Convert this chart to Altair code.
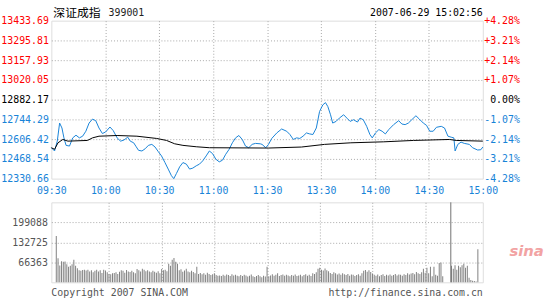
import altair as alt
import pandas as pd

# ---------------- data ----------------
PREV_CLOSE = 12882.17
PRICE_TICKS = [12330.66, 12468.54, 12606.42, 12744.29, 12882.17, 13020.05, 13157.93, 13295.81, 13433.69]
PCT_TICKS = [-4.28, -3.21, -2.14, -1.07, 0.0, 1.07, 2.14, 3.21, 4.28]
TIME_TICKS = [0, 30, 60, 90, 120, 150, 180, 210, 240]
TIME_LABELS = ["09:30", "10:00", "10:30", "11:00", "11:30", "13:30", "14:00", "14:30", "15:00"]
VOL_TICKS = [66363, 132725, 199088]
VOL_MAX = 265451
VOL_MARK_MINUTE = [224.6]

TITLE_NAME = "深证成指"
TITLE_CODE = "399001"
STAMP = "2007-06-29 15:02:56"
COPYRIGHT = "Copyright 2007 SINA.COM"
URL = "http://finance.sina.com.cn"
LOGO = "sina"

price_minute = [0.0, 1.8, 3.3, 4.6, 5.9, 7.0, 8.2, 10.1, 11.9, 13.7, 15.6, 17.4, 19.2, 21.0, 22.9, 24.7,
                26.5, 28.4, 30.2, 32.6, 34.4, 36.6, 38.5, 40.3, 42.5, 43.9, 45.8, 47.2, 48.5, 50.4, 52.2,
                54.0, 55.9, 57.7, 59.5, 61.3, 63.2, 65.0, 66.8, 68.1, 69.6, 71.4, 73.2, 75.1, 76.9, 78.7,
                80.6, 82.4, 84.2, 86.1, 87.9, 89.7, 91.5, 93.4, 95.2, 97.0, 98.9, 100.7, 102.5, 104.3,
                106.2, 108.0, 109.8, 111.7, 113.5, 116.2, 117.2, 119.3, 120.8, 122.6, 125.4, 128.1, 130.9,
                132.7, 134.6, 136.4, 138.2, 140.0, 141.9, 143.7, 145.5, 147.4, 148.3, 149.2, 151.0, 152.5,
                153.8, 155.3, 156.5, 158.4, 160.2, 162.6, 164.4, 166.2, 168.1, 170.3, 171.7, 173.5, 175.4,
                177.2, 178.5, 180.3, 182.2, 184.0, 185.8, 187.7, 190.4, 193.2, 195.0, 196.8, 198.6, 200.5,
                202.8, 204.7, 206.9, 208.7, 210.5, 212.4, 214.2, 216.9, 218.7, 220.6, 222.4, 223.9, 224.6,
                226.1, 227.9, 229.7, 232.5, 234.3, 237.1, 238.9, 240.0]
price_value = [12546.5, 12523.7, 12592.6, 12718.8, 12684.3, 12615.4, 12563.0, 12558.2, 12615.4, 12634.0,
               12615.4, 12627.1, 12661.6, 12718.8, 12746.4, 12735.3, 12684.3, 12645.7, 12656.7, 12691.2,
               12666.4, 12615.4, 12592.6, 12599.5, 12620.2, 12592.6, 12580.9, 12553.3, 12528.5, 12523.7,
               12539.5, 12563.0, 12569.9, 12551.3, 12518.9, 12489.2, 12443.0, 12397.5, 12351.3, 12330.66,
               12367.2, 12413.4, 12443.0, 12432.0, 12397.5, 12404.4, 12420.3, 12432.0, 12454.7, 12489.2,
               12523.7, 12505.1, 12466.5, 12447.8, 12459.6, 12500.9, 12535.4, 12580.9, 12615.4, 12631.9,
               12604.3, 12558.2, 12546.5, 12569.9, 12576.8, 12574.0, 12569.9, 12546.5, 12569.9, 12611.2,
               12649.8, 12677.4, 12661.6, 12638.8, 12604.3, 12615.4, 12611.2, 12627.1, 12649.8, 12642.9,
               12638.8, 12684.3, 12742.2, 12799.4, 12845.6, 12861.5, 12833.9, 12776.7, 12718.8, 12730.5,
               12753.3, 12776.7, 12753.3, 12730.5, 12742.2, 12725.7, 12753.3, 12742.2, 12696.0, 12638.8,
               12615.4, 12649.8, 12673.3, 12661.6, 12642.9, 12673.3, 12707.8, 12735.3, 12711.9, 12707.8,
               12718.8, 12742.2, 12769.8, 12746.4, 12718.8, 12702.9, 12661.6, 12661.6, 12689.1, 12696.0,
               12684.3, 12627.1, 12620.2, 12615.4, 12523.7, 12569.9, 12585.7, 12576.8, 12569.9, 12546.5,
               12530.6, 12532.6, 12551.3]

avg_minute = [0.0, 1.8, 3.7, 6.4, 9.2, 20.1, 22.9, 26.5, 36.6, 47.6, 58.6, 64.1, 68.6, 73.2, 80.6, 87.9,
              120.8, 139.1, 152.0, 166.6, 184.9, 201.4, 221.5, 225.2, 240.0]
avg_value = [12546.5, 12535.4, 12580.9, 12604.3, 12592.6, 12597.4, 12615.4, 12627.1, 12631.9, 12627.1,
             12611.2, 12597.4, 12574.0, 12563.0, 12553.3, 12546.5, 12544.4, 12551.3, 12569.9, 12580.9,
             12587.8, 12597.4, 12604.3, 12597.4, 12592.6]

volume = [
    154000, 80000, 56000, 70000, 68000, 69000, 60000, 52000, 55000, 60000,
    75000, 55000, 47000, 40000, 38000, 41000, 42000, 39000, 42000, 36000,
    40000, 33000, 38000, 42000, 36000, 40000, 31000, 42000, 39000, 33000,
    28000, 27000, 30000, 31000, 33000, 28000, 35000, 40000, 38000, 32000,
    41000, 36000, 34000, 38000, 33000, 30000, 44000, 40000, 36000, 45000,
    42000, 37000, 40000, 36000, 33000, 38000, 35000, 32000, 37000, 30000,
    44000, 40000, 42000, 37000, 62000, 55000, 75000, 81000, 68000, 62000,
    40000, 43000, 35000, 39000, 45000, 36000, 33000, 38000, 34000, 30000,
    52000, 28000, 31000, 27000, 30000, 25000, 32000, 28000, 24000, 27000,
    30000, 24000, 22000, 23000, 21000, 25000, 22000, 26000, 24000, 21000,
    27000, 23000, 25000, 22000, 20000, 24000, 21000, 25000, 23000, 19000,
    22000, 26000, 20000, 18000, 21000, 24000, 20000, 17000, 22000, 19000,
    52000,
    20000, 23000, 27000, 22000, 25000, 30000, 21000, 24000, 26000, 22000,
    25000, 23000, 20000, 24000, 22000, 26000, 21000, 23000, 25000, 20000,
    24000, 27000, 22000, 25000, 21000, 30000, 28000, 33000, 45000, 48000,
    42000, 39000, 46000, 40000, 37000, 31000, 28000, 33000, 30000, 26000,
    29000, 25000, 30000, 27000, 24000, 28000, 22000, 26000, 25000, 21000,
    24000, 27000, 22000, 30000, 38000, 41000, 35000, 40000, 34000, 29000,
    25000, 22000, 26000, 20000, 24000, 27000, 21000, 25000, 23000, 26000,
    22000, 24000, 28000, 23000, 26000, 25000, 22000, 27000, 24000, 30000,
    26000, 29000, 31000, 27000, 34000, 30000, 28000, 33000, 45000, 32000,
    48000, 30000, 52000, 20000, 52000, 25000, 22000, 64000, 66000, 20000,
    0, 0, 0, 0, 55000, 45000, 57000, 42000, 55000, 50000,
    57000, 62000, 48000, 55000, 15000, 8000, 5000, 4000, 3000, 110000,
]

# ---------------- style ----------------
MONO = "DejaVu Sans Mono"
BLUE = "#1883d7"
RED = "#ff0000"
GRID = "#a8a8a8"
FRAME = "#888888"
W, H_TOP, H_VOL = 437, 160, 81

price_df = pd.DataFrame({"m": price_minute, "p": price_value})
avg_df = pd.DataFrame({"m": avg_minute, "p": avg_value})
vol_df = pd.DataFrame({"m": list(range(len(volume))), "v": volume})

time_expr = "[" + ",".join("'%s'" % t for t in TIME_LABELS) + "][round(datum.value / 30)]"

x_top = alt.X(
    "m:Q",
    scale=alt.Scale(domain=[0, 240], nice=False, zero=False),
    axis=alt.Axis(
        values=TIME_TICKS, labelExpr=time_expr, labelFont=MONO, labelFontSize=10,
        labelColor=BLUE, labelPadding=7, labelFlush=False, labelOverlap=False,
        ticks=False, domain=False, grid=True, gridColor=GRID, gridDash=[1, 2],
        gridOpacity={"condition": {"test": "datum.value < 1 || datum.value > 239", "value": 0}, "value": 1},
        title=None,
    ),
)

lo, hi = PRICE_TICKS[0], PRICE_TICKS[-1]
left_axis = alt.Axis(
    values=PRICE_TICKS, format=".2f", labelFont=MONO, labelFontSize=10, labelPadding=3,
    labelColor={"condition": [
        {"test": "datum.value > %f" % (PREV_CLOSE + 0.01), "value": RED},
        {"test": "datum.value < %f" % (PREV_CLOSE - 0.01), "value": BLUE},
    ], "value": "#000000"},
    labelOverlap=False, labelFlush=False, ticks=False, domain=False,
    grid=True, gridColor=GRID, gridDash=[1, 2],
    gridOpacity={"condition": {"test": "datum.value < %f || datum.value > %f" % (lo + 1, hi - 1), "value": 0}, "value": 1},
    title=None, orient="left",
)
y_price = alt.Y("p:Q", scale=alt.Scale(domain=[lo, hi], nice=False, zero=False), axis=left_axis)

right_axis = alt.Axis(
    values=PCT_TICKS, orient="right", labelFont=MONO, labelFontSize=10,
    labelExpr="(datum.value > 0.001 ? '+' : datum.value < -0.001 ? '-' : '') + format(abs(datum.value), '.2f') + '%'",
    labelColor={"condition": [
        {"test": "datum.value > 0.001", "value": RED},
        {"test": "datum.value < -0.001", "value": BLUE},
    ], "value": "#000000"},
    labelAlign="right", labelPadding=37, labelOverlap=False, labelFlush=False,
    ticks=False, domain=False, grid=False, title=None,
)

helper = alt.Chart(pd.DataFrame({"a": [0]})).mark_rect(fill="white", opacity=0).encode(
    x=alt.value(-50), x2=alt.value(495), y=alt.value(-18), y2=alt.value(282)
)

price_line = alt.Chart(price_df).mark_line(color=BLUE, strokeWidth=1).encode(x=x_top, y=y_price)
avg_line = alt.Chart(avg_df).mark_line(color="#000000", strokeWidth=1).encode(x=x_top, y=y_price)
lines = alt.layer(price_line, avg_line)

pct_layer = alt.Chart(price_df).transform_calculate(
    pct="(datum.p / %f - 1) * 100" % PREV_CLOSE
).mark_line(opacity=0).encode(
    x=x_top,
    y=alt.Y("pct:Q", scale=alt.Scale(domain=[PCT_TICKS[0], PCT_TICKS[-1]], nice=False, zero=False), axis=right_axis),
)


def label(txt, x, y, align="left", font=MONO, size=10, color="#000000", **kw):
    return alt.Chart(pd.DataFrame({"t": [txt]})).mark_text(
        align=align, baseline="middle", font=font, fontSize=size, color=color, **kw
    ).encode(text="t:N", x=alt.value(x), y=alt.value(y))


title_name = label(TITLE_NAME, 2, -8, font="Noto Sans CJK SC", size=12)
title_code = label(TITLE_CODE, 58, -8, size=10, color="#222222")
stamp = label(STAMP, W, -8, align="right", size=10)

top = alt.layer(helper, lines, pct_layer, title_name, title_code, stamp).resolve_scale(y="independent").properties(
    width=W, height=H_TOP
)

x_vol = alt.X(
    "m:Q",
    scale=alt.Scale(domain=[0, 240], nice=False, zero=False),
    axis=alt.Axis(values=TIME_TICKS[1:-1], labels=False, ticks=False, domain=False, grid=True,
                  gridColor=GRID, gridDash=[1, 2], title=None),
)
vol_axis = alt.Axis(values=VOL_TICKS, format="d", labelFont=MONO, labelFontSize=10, labelColor="#555555",
                    labelPadding=4, ticks=False, domain=False, grid=True, gridColor=GRID,
                    gridDash=[1, 2], labelOverlap=False, title=None)

bars = alt.Chart(vol_df).mark_bar(size=1, color="#808080").encode(
    x=x_vol,
    y=alt.Y("v:Q", scale=alt.Scale(domain=[0, VOL_MAX], nice=False, zero=True), axis=vol_axis),
)
vmark = alt.Chart(pd.DataFrame({"m": VOL_MARK_MINUTE})).mark_rule(color="#707070", strokeWidth=1).encode(x=x_vol)
copyright_t = label(COPYRIGHT, 0, 92, color="#555555")
url_t = label(URL, W, 92, align="right", color="#555555")
logo_t = label(LOGO, 464, 49, font="DejaVu Sans", size=15, color="#f2a3a3", fontStyle="italic", fontWeight="bold")

vol = alt.layer(bars, vmark, copyright_t, url_t, logo_t).properties(width=W, height=H_VOL)

chart = alt.VConcatChart(vconcat=[top, vol], spacing=24, bounds="flush").properties(
    padding=0
).configure_view(stroke=FRAME, strokeWidth=1).configure(background="white")

chart.save("out.html", embed_options={"renderer": "svg", "actions": False})
